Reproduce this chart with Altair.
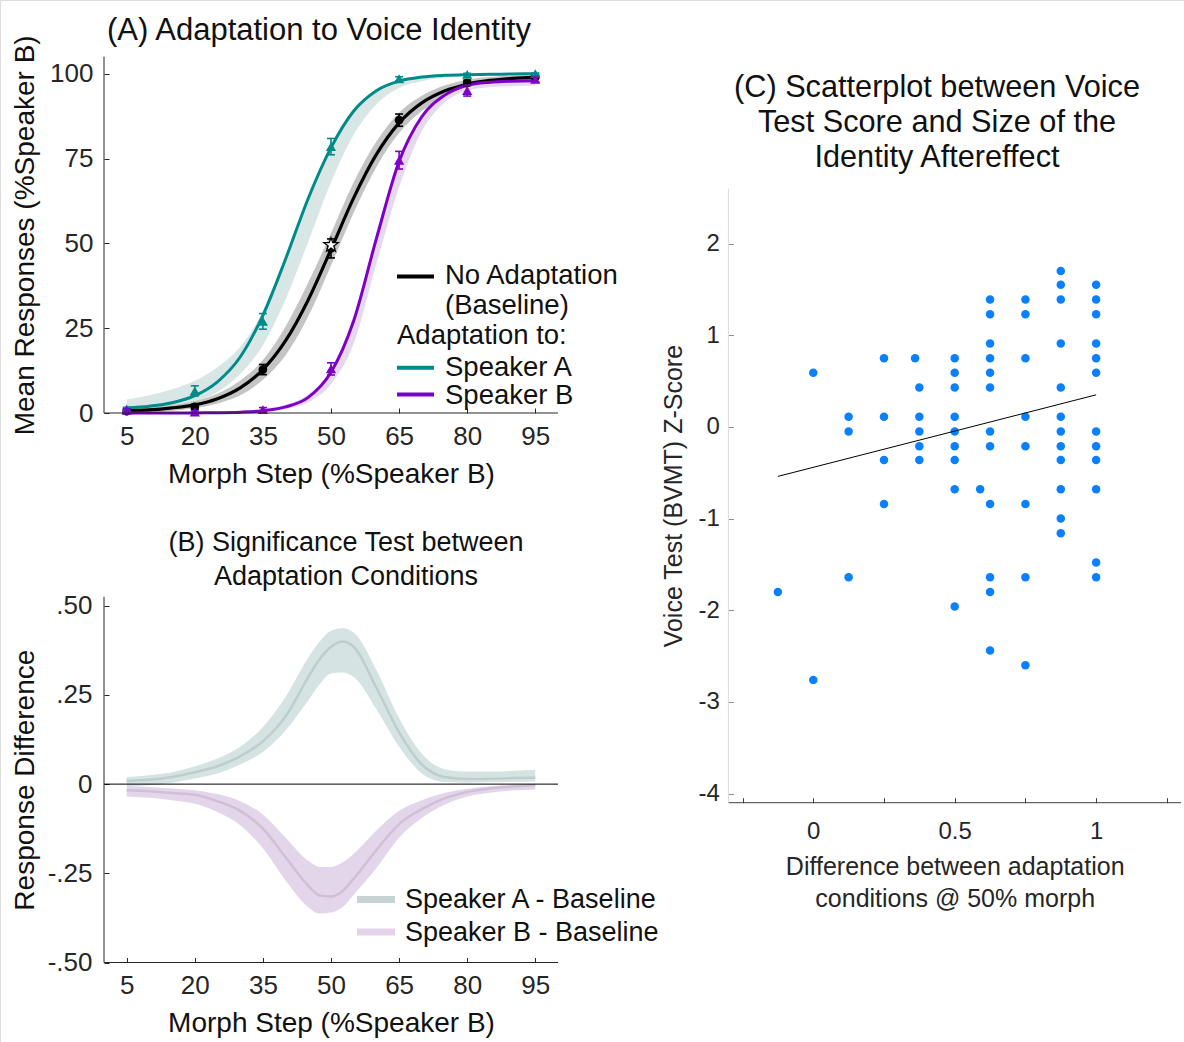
import altair as alt
import pandas as pd

FONT = "Liberation Sans"
INK = "#262626"
TEAL = "#008b8b"
PURP = "#7e00c8"
TK = 5  # tick length (ticks drawn inward)

# ---------------- Panel A: psychometric curves ----------------
steps = [5, 20, 35, 50, 65, 80, 95]
base_mean = [0.5, 1.8, 12.8, 48.5, 86.3, 97.3, 99.0]
base_err = [0.5, 0.8, 1.5, 2.8, 1.8, 0.8, 0.5]
spkA_mean = [1.2, 6.5, 27.0, 78.5, 98.5, 99.8, 100.0]
spkA_err = [0.5, 1.5, 2.3, 2.4, 0.6, 0.3, 0.2]
spkB_mean = [0.8, 0.3, 1.0, 13.0, 74.5, 95.0, 98.3]
spkB_err = [0.4, 0.3, 0.6, 1.8, 2.6, 1.6, 0.7]
star_x = [50]
star_y = [49.5]

fit_x = [5, 10, 15, 20, 25, 30, 35, 40, 45, 50, 55, 60, 65, 70, 75, 80, 85, 90, 95]
base_fit = [0.6, 0.9, 1.5, 2.4, 4.2, 7.4, 12.8, 21.3, 33.4, 48.2, 63.4, 76.2, 85.5, 91.4, 94.9, 96.9, 98.0, 98.6, 98.9]
base_lo = [0.1, 0.3, 0.7, 1.4, 2.8, 5.2, 9.8, 17.0, 28.5, 43.5, 59.0, 72.5, 82.5, 89.0, 93.0, 95.3, 96.7, 97.5, 98.0]
base_hi = [1.3, 1.7, 2.4, 3.5, 5.7, 9.6, 15.6, 25.5, 38.5, 53.0, 68.0, 80.0, 88.5, 93.5, 96.5, 98.2, 99.0, 99.4, 99.6]
spkA_fit = [1.5, 2.0, 3.0, 5.1, 9.2, 16.5, 28.8, 45.4, 63.3, 78.2, 89.0, 95.0, 97.8, 99.0, 99.5, 99.7, 99.8, 99.9, 100.0]
spkA_lo = [0.6, 1.1, 1.8, 3.2, 6.2, 11.5, 20.0, 33.5, 50.5, 68.0, 82.0, 91.0, 95.8, 97.8, 98.9, 99.3, 99.5, 99.6, 99.7]
spkA_hi = [4.0, 5.2, 7.0, 9.5, 13.5, 19.5, 30.0, 46.0, 64.0, 79.0, 89.5, 95.5, 98.2, 99.3, 99.7, 99.9, 100.0, 100.0, 100.0]
spkB_fit = [0.0, 0.0, 0.0, 0.03, 0.08, 0.23, 0.65, 1.8, 4.6, 12.0, 27.2, 51.4, 74.1, 87.3, 93.6, 96.6, 97.5, 97.8, 97.9]
spkB_lo = [0.0, 0.0, 0.0, 0.0, 0.05, 0.15, 0.4, 1.2, 3.2, 8.5, 20.5, 44.0, 66.5, 83.0, 91.5, 95.0, 96.0, 96.3, 96.5]
spkB_hi = [0.3, 0.3, 0.3, 0.4, 0.5, 0.7, 1.2, 2.4, 5.5, 13.0, 28.5, 53.0, 75.5, 88.0, 94.0, 96.8, 97.7, 98.0, 98.1]

# ---------------- Panel B: difference curves ----------------
diff_x = [5, 10, 15, 20, 25, 30, 35, 40, 45, 47.5, 50, 52.5, 55, 60, 65, 70, 75, 80, 85, 90, 95]
diffA = [0.009, 0.012, 0.02, 0.033, 0.05, 0.078, 0.12, 0.19, 0.30, 0.35, 0.385, 0.40, 0.385, 0.27, 0.145, 0.055, 0.02, 0.014, 0.015, 0.017, 0.018]
diffA_hi = [0.02, 0.025, 0.033, 0.05, 0.072, 0.105, 0.16, 0.245, 0.355, 0.40, 0.43, 0.437, 0.425, 0.32, 0.185, 0.085, 0.042, 0.035, 0.035, 0.037, 0.04]
diffA_lo = [-0.006, -0.003, 0.004, 0.016, 0.03, 0.055, 0.09, 0.15, 0.235, 0.28, 0.31, 0.313, 0.30, 0.21, 0.105, 0.03, 0.006, 0.004, 0.005, 0.006, 0.007]
diffB = [-0.017, -0.02, -0.025, -0.03, -0.048, -0.075, -0.125, -0.205, -0.285, -0.312, -0.315, -0.30, -0.265, -0.185, -0.112, -0.07, -0.04, -0.022, -0.012, -0.007, -0.003]
diffB_hi = [-0.005, -0.008, -0.012, -0.017, -0.028, -0.048, -0.085, -0.15, -0.215, -0.232, -0.232, -0.22, -0.195, -0.13, -0.075, -0.045, -0.025, -0.013, -0.006, -0.002, 0.0]
diffB_lo = [-0.035, -0.038, -0.045, -0.055, -0.078, -0.115, -0.18, -0.27, -0.345, -0.363, -0.36, -0.345, -0.31, -0.235, -0.15, -0.095, -0.058, -0.035, -0.024, -0.018, -0.015]

# ---------------- Panel C: scatter ----------------
sc_x = ([-0.125] + [0.0] * 2 + [0.125] * 3 + [0.25] * 4 + [0.36] + [0.375] * 5
        + [0.5] * 9 + [0.59] + [0.625] * 12 + [0.75] * 8 + [0.875] * 12 + [1.0] * 12)
sc_y = ([-1.80]
        + [0.59, -2.76]
        + [0.11, -0.05, -1.64]
        + [0.75, 0.11, -0.36, -0.84]
        + [0.75]
        + [0.43, 0.11, -0.05, -0.21, -0.36]
        + [0.75, 0.59, 0.43, 0.11, -0.05, -0.21, -0.36, -0.68, -1.96]
        + [-0.68]
        + [1.39, 1.23, 0.91, 0.75, 0.59, 0.43, -0.05, -0.21, -0.84, -1.64, -1.80, -2.44]
        + [1.39, 1.23, 0.75, 0.11, -0.21, -0.84, -1.64, -2.60]
        + [1.70, 1.55, 1.39, 0.91, 0.43, 0.11, -0.05, -0.21, -0.36, -0.68, -1.00, -1.16]
        + [1.55, 1.39, 1.23, 0.91, 0.75, 0.59, -0.05, -0.21, -0.36, -0.68, -1.48, -1.64])
reg_x = [-0.125, 1.0]
reg_y = [-0.54, 0.35]

# axis domains (also used for drawn axis lines)
domA_x, domA_y = [0, 100], [0, 105]
domB_x, domB_y = [0, 100], [-0.5, 0.525]
domC_x, domC_y = [-0.3, 1.3], [-4.1, 2.6]

# ---------------- data frames ----------------
fitA = pd.DataFrame({"x": fit_x, "base": base_fit, "base_lo": base_lo, "base_hi": base_hi,
                     "a": spkA_fit, "a_lo": spkA_lo, "a_hi": spkA_hi,
                     "b": spkB_fit, "b_lo": spkB_lo, "b_hi": spkB_hi})
def pts(means, errs):
    return pd.DataFrame({"x": steps, "m": means,
                         "lo": [m - e for m, e in zip(means, errs)],
                         "hi": [m + e for m, e in zip(means, errs)]})
ptsBase, ptsA, ptsB = pts(base_mean, base_err), pts(spkA_mean, spkA_err), pts(spkB_mean, spkB_err)
starDF = pd.DataFrame({"x": star_x, "m": star_y})
diffDF = pd.DataFrame({"x": diff_x, "a": diffA, "a_lo": diffA_lo, "a_hi": diffA_hi,
                       "b": diffB, "b_lo": diffB_lo, "b_hi": diffB_hi})
zeroDF = pd.DataFrame({"x": [domB_x[0]], "x1": [domB_x[1]], "y": [0]})
scDF = pd.DataFrame({"x": sc_x, "y": sc_y})
regDF = pd.DataFrame({"x": reg_x, "y": reg_y})
dummy = pd.DataFrame({"a": [0]})

def frame_df(dx, dy):
    # bottom axis line and left axis line of a panel
    return (pd.DataFrame({"x": [dx[0]], "x1": [dx[1]], "y": [dy[0]]}),
            pd.DataFrame({"x": [dx[0]], "y": [dy[0]], "y1": [dy[1]]}))

H_TOTAL = 1042

def ax(orient, offset, values, title, **kw):
    base = dict(orient=orient, offset=offset, values=values, title=title, grid=False,
                labelFont=FONT, titleFont=FONT, labelColor=INK, titleColor="#111",
                titleFontWeight="normal", domain=False, tickColor=INK,
                tickSize=TK, labelFontSize=26, titleFontSize=28)
    base.update(kw)
    return alt.Axis(**base)

def band(df, e, color):
    return alt.Chart(df).mark_area(color=color, opacity=1, interpolate="monotone").encode(**e)

def curve(df, e, color, w=3):
    return alt.Chart(df).mark_line(color=color, strokeWidth=w, interpolate="monotone").encode(**e)

def frame(enc, dx, dy, cx=INK, cy=INK):
    bdf, ldf = frame_df(dx, dy)
    eb = enc("y")
    eb["x2"] = alt.X2("x1:Q")
    el = enc("y", "y1")
    return [alt.Chart(bdf).mark_rule(color=cx, strokeWidth=1).encode(**eb),
            alt.Chart(ldf).mark_rule(color=cy, strokeWidth=1).encode(**el)]

# ---- Panel A scales/axes (axes shifted inward by TK so ticks point into the plot)
XA = alt.Scale(domain=domA_x, range=[104, 558], nice=False, zero=False)
YA = alt.Scale(domain=domA_y, range=[413, 56.7], nice=False, zero=False)
axAx = ax("bottom", -(H_TOTAL - 413) - TK, steps, "Morph Step (%Speaker B)",
          labelPadding=10, titleY=69 + TK, titleBaseline="alphabetic")
axAy = ax("left", -104 - TK, [0, 25, 50, 75, 100], "Mean Responses (%Speaker B)",
          labelPadding=11, titleX=-71 - TK, titleBaseline="alphabetic")

def eA(ycol, y2col=None):
    e = dict(x=alt.X("x:Q", scale=XA, axis=axAx), y=alt.Y(f"{ycol}:Q", scale=YA, axis=axAy))
    if y2col:
        e["y2"] = alt.Y2(f"{y2col}:Q")
    return e

def errbars(df, color, shape):
    r = alt.Chart(df).mark_rule(color=color, strokeWidth=1.6).encode(**eA("lo", "hi"))
    caps = []
    for col in ("lo", "hi"):
        e = eA(col)
        e["x2"] = alt.X2("x:Q")
        caps.append(alt.Chart(df).mark_rule(color=color, strokeWidth=1.6, xOffset=-4, x2Offset=4).encode(**e))
    if shape == "circle":
        m = alt.Chart(df).mark_point(shape="circle", filled=True, size=75, color=color, opacity=1).encode(**eA("m"))
    else:
        m = alt.Chart(df).mark_point(shape="triangle-up", filled=True, size=105, color=color, opacity=1).encode(**eA("m"))
    return [r] + caps + [m]

STAR = "M0,-1L0.2245,-0.309L0.951,-0.309L0.363,0.118L0.588,0.809L0,0.382L-0.588,0.809L-0.363,0.118L-0.951,-0.309L-0.2245,-0.309Z"

panelA = alt.layer(
    band(fitA, eA("a_lo", "a_hi"), "#d9e6e6"),
    band(fitA, eA("base_lo", "base_hi"), "#c4c4c4"),
    band(fitA, eA("b_lo", "b_hi"), "#e6d9ef"),
    curve(fitA, eA("a"), TEAL),
    curve(fitA, eA("base"), "black", 3.2),
    curve(fitA, eA("b"), PURP),
    *errbars(ptsBase, "black", "circle"),
    *errbars(ptsA, TEAL, "tri"),
    *errbars(ptsB, PURP, "tri"),
    alt.Chart(starDF).mark_point(shape=STAR, filled=True, fill="white", stroke="black",
                                 strokeWidth=1.2, size=230, opacity=1).encode(**eA("m")),
    *frame(eA, domA_x, domA_y),
)

# ---- Panel B
XB = alt.Scale(domain=domB_x, range=[104, 558], nice=False, zero=False)
YB = alt.Scale(domain=domB_y, range=[962.5, 596.8], nice=False, zero=False)
axBx = ax("bottom", -(H_TOTAL - 962.5) - TK, steps, "Morph Step (%Speaker B)",
          labelPadding=10, titleY=69 + TK, titleBaseline="alphabetic")
axBy = ax("left", -104 - TK, [-0.5, -0.25, 0, 0.25, 0.5], "Response Difference",
          labelPadding=12, titleX=-71 - TK, titleBaseline="alphabetic",
          labelExpr="datum.value == 0 ? '0' : (datum.value < 0 ? '-' : '') + '.' + format(abs(datum.value) * 100, '02d')")

def eB(ycol, y2col=None):
    e = dict(x=alt.X("x:Q", scale=XB, axis=axBx), y=alt.Y(f"{ycol}:Q", scale=YB, axis=axBy))
    if y2col:
        e["y2"] = alt.Y2(f"{y2col}:Q")
    return e

zero_e = eB("y")
zero_e["x2"] = alt.X2("x1:Q")
panelB = alt.layer(
    band(diffDF, eB("a_lo", "a_hi"), "#d6e3e3"),
    band(diffDF, eB("b_lo", "b_hi"), "#e3d5ea"),
    curve(diffDF, eB("a"), "#c0cdcd", 2.5),
    curve(diffDF, eB("b"), "#cfc0d7", 2.5),
    alt.Chart(zeroDF).mark_rule(color="black", strokeWidth=1).encode(**zero_e),
    *frame(eB, domB_x, domB_y),
)

# ---- Panel C
XC = alt.Scale(domain=domC_x, range=[728.4, 1181], nice=False, zero=False)
YC = alt.Scale(domain=domC_y, range=[802.7, 188.6], nice=False, zero=False)
axCx = ax("bottom", -(H_TOTAL - 802.7) - TK, [-0.25, 0, 0.25, 0.5, 0.75, 1, 1.25],
          ["Difference between adaptation", "conditions @ 50% morph"],
          labelPadding=17, titleY=72 + TK, titleBaseline="alphabetic", titleLineHeight=32,
          labelFontSize=24, titleFontSize=25, tickColor="#404040",
          titleColor="#262626",
          labelExpr="datum.value == 0 ? '0' : datum.value == 0.5 ? '0.5' : datum.value == 1 ? '1' : ''")
axCy = ax("left", -728.4 - TK, [-4, -3, -2, -1, 0, 1, 2], "Voice Test (BVMT) Z-Score",
          labelPadding=9, titleX=-47 - TK, titleBaseline="alphabetic",
          labelFontSize=24, titleFontSize=25, tickColor="#8c8c8c",
          titleColor="#262626",
          labelExpr="datum.value < 0 ? '-' + abs(datum.value) : '' + datum.value")

def eC(ycol, y2col=None):
    e = dict(x=alt.X("x:Q", scale=XC, axis=axCx), y=alt.Y(f"{ycol}:Q", scale=YC, axis=axCy))
    if y2col:
        e["y2"] = alt.Y2(f"{y2col}:Q")
    return e

panelC = alt.layer(
    alt.Chart(scDF).mark_circle(size=72, color="#0a80ff", opacity=1).encode(**eC("y")),
    alt.Chart(regDF).mark_line(color="black", strokeWidth=1).encode(**eC("y")),
    *frame(eC, domC_x, domC_y, cx="#404040", cy="#d9d9d9"),
)

# ---- annotations (titles, legends)
def txt(s, x, y, size, align="left", lh=None):
    kw = dict(text=s, font=FONT, fontSize=size, align=align, baseline="alphabetic", color="#111")
    if lh:
        kw["lineHeight"] = lh
    return alt.Chart(dummy).mark_text(**kw).encode(x=alt.value(x), y=alt.value(y))

def sw(x1, x2, y, color, w):
    return alt.Chart(dummy).mark_rule(color=color, strokeWidth=w).encode(
        x=alt.value(x1), x2=alt.value(x2), y=alt.value(y))

annot = [
    txt("(A) Adaptation to Voice Identity", 319, 39.5, 31, "center"),
    txt(["(B) Significance Test between", "Adaptation Conditions"], 346, 551, 27, "center", 34),
    txt(["(C) Scatterplot between Voice", "Test Score and Size of the", "Identity Aftereffect"],
        937, 96.5, 30.7, "center", 35),
    sw(397, 434, 276.5, "black", 4),
    txt("No Adaptation", 445, 283.5, 27.5),
    txt("(Baseline)", 445, 313.5, 27.5),
    txt("Adaptation to:", 397, 343.5, 27.5),
    sw(397, 434, 367.7, TEAL, 4),
    txt("Speaker A", 445, 375.5, 27.5),
    sw(397, 434, 394.5, PURP, 4),
    txt("Speaker B", 445, 403.5, 27.5),
    sw(357, 395, 899.5, "#c5d3d3", 7),
    txt("Speaker A - Baseline", 405, 908, 27),
    sw(357, 395, 932, "#e2d3ea", 7),
    txt("Speaker B - Baseline", 405, 941, 27),
]

chart = alt.layer(panelA, panelB, panelC, *annot).resolve_scale(
    x="independent", y="independent"
).properties(
    width=1184, height=1042, padding=0,
    autosize=alt.AutoSizeParams(type="none"),
).configure_view(stroke=None).configure(font=FONT)

chart.save("out.html", embed_options={"renderer": "svg", "actions": False})
